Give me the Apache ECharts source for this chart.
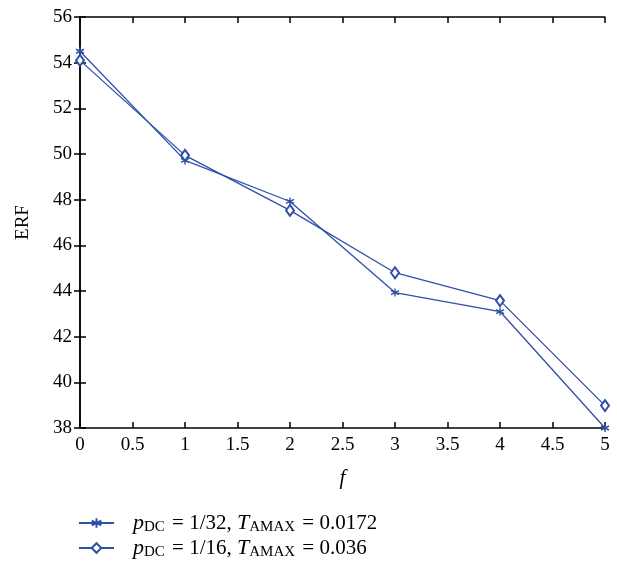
<!DOCTYPE html>
<html>
<head>
<meta charset="utf-8">
<script src="https://cdn.jsdelivr.net/npm/echarts@6/dist/echarts.min.js"></script>
<style>
  html, body { margin: 0; padding: 0; background: #fff; }
  #chart { width: 617px; height: 562px; }
</style>
</head>
<body>
<div id="chart"></div>
<script>
// f values on the x axis
const fValues = [0, 1, 2, 3, 4, 5];
// ERF for p_DC = 1/32, T_AMAX = 0.0172
const erfP32 = [54.5, 49.72, 47.92, 43.93, 43.1, 38.0];
// ERF for p_DC = 1/16, T_AMAX = 0.036
const erfP16 = [54.1, 49.94, 47.53, 44.8, 43.58, 38.98];

const blue = "#2f4fa8";
const serif = "Liberation Serif, DejaVu Serif, serif";
// asterisk drawn as stroked segments
const asterisk = "path://M5,0L5,10M0.7,2.5L9.3,7.5M0.7,7.5L9.3,2.5";

const legendText = {
  s1: "{i|p}{s|DC}{n| = 1/32, }{i|T}{s|AMAX}{n| = 0.0172}",
  s2: "{i|p}{s|DC}{n| = 1/16, }{i|T}{s|AMAX}{n| = 0.036}",
};

const chart = echarts.init(document.getElementById("chart"));

const axisBase = {
  type: "value",
  axisLine: { show: true, lineStyle: { color: "#000", width: 1.5 } },
  axisTick: { show: true, inside: true, length: 6, lineStyle: { color: "#000", width: 1.5 } },
  splitLine: { show: false },
};

chart.setOption({
  animation: false,
  textStyle: { fontFamily: serif },
  grid: { left: 80, right: 12, top: 17, bottom: 134 },
  xAxis: [
    Object.assign({}, axisBase, {
      min: 0, max: 5, interval: 0.5,
      name: "f",
      nameLocation: "middle",
      nameGap: 40,
      nameTextStyle: { fontFamily: serif, fontStyle: "italic", fontSize: 21, color: "#000" },
      axisLabel: { color: "#000", fontSize: 19, margin: 8, fontFamily: serif },
    }),
    Object.assign({}, axisBase, {
      position: "top", min: 0, max: 5, interval: 0.5,
      axisLabel: { show: false },
    }),
  ],
  yAxis: [
    Object.assign({}, axisBase, {
      min: 38, max: 56, interval: 2,
      name: "ERF",
      nameLocation: "middle",
      nameGap: 47,
      nameTextStyle: { fontFamily: serif, fontSize: 19, color: "#000" },
      axisLabel: { color: "#000", fontSize: 19, margin: 8, fontFamily: serif },
    }),
    Object.assign({}, axisBase, {
      position: "right", min: 38, max: 56, interval: 2,
      axisLabel: { show: false },
    }),
  ],
  legend: {
    orient: "vertical",
    left: 78,
    top: 511,
    padding: 0,
    itemWidth: 35,
    itemHeight: 12,
    itemGap: 1,
    data: ["s1", "s2"],
    formatter: (name) => legendText[name],
    textStyle: {
      color: "#000",
      fontFamily: serif,
      fontSize: 21,
      padding: [0, 0, 0, 14],
      rich: {
        i: { fontFamily: serif, fontStyle: "italic", fontSize: 22, lineHeight: 22, color: "#000" },
        s: { fontFamily: serif, fontSize: 15, lineHeight: 15, color: "#000", padding: [9, 2, 0, 0] },
        n: { fontFamily: serif, fontSize: 21, lineHeight: 22, color: "#000" },
      },
    },
  },
  series: [
    {
      name: "s1",
      type: "line",
      data: fValues.map((f, k) => [f, erfP32[k]]),
      symbol: asterisk,
      symbolSize: 8,
      color: blue,
      lineStyle: { color: blue, width: 1.3 },
      itemStyle: { color: blue, borderColor: blue, borderWidth: 1.4 },
    },
    {
      name: "s2",
      type: "line",
      data: fValues.map((f, k) => [f, erfP16[k]]),
      symbol: "emptyDiamond",
      symbolSize: [8, 11],
      color: blue,
      lineStyle: { color: blue, width: 1.3 },
      itemStyle: { color: blue, borderColor: blue, borderWidth: 1.2 },
    },
  ],
});
</script>
</body>
</html>
